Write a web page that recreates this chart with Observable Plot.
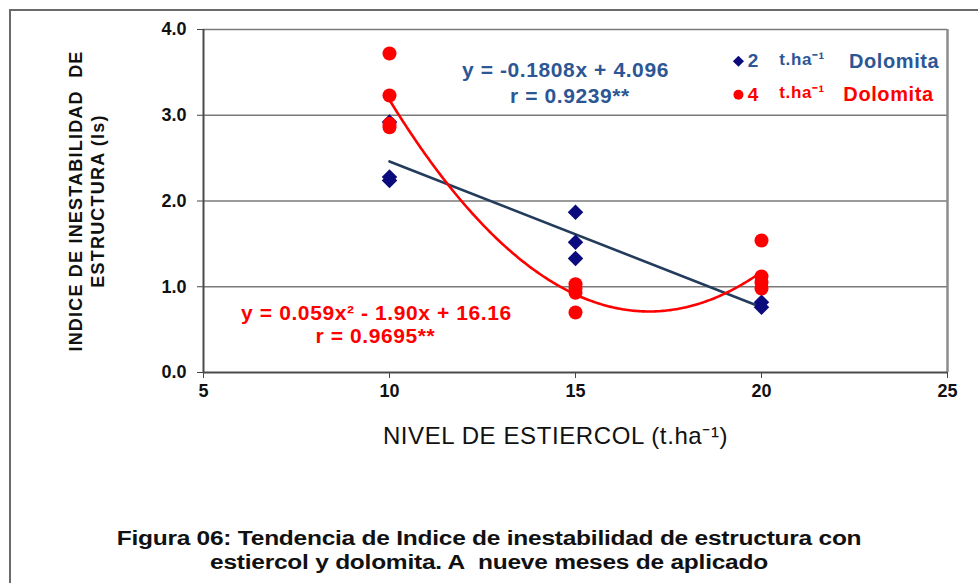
<!DOCTYPE html>
<html>
<head>
<meta charset="utf-8">
<script src="https://cdn.jsdelivr.net/npm/d3@7"></script>
<script src="https://cdn.jsdelivr.net/npm/@observablehq/plot@0.6"></script>
<style>
  body { margin: 0; background: #fff; }
  #frame { position: absolute; left: 9px; top: 9px; width: 969px; height: 574px;
           border-top: 2px solid #6a6a6a; border-left: 2px solid #6a6a6a; box-sizing: border-box; }
  #chart { position: absolute; left: 0; top: 0; }
  #cap { position: absolute; left: 0; top: 526px; width: 978px; text-align: center;
         font-family: "Liberation Sans", Arial, sans-serif; font-weight: bold; font-size: 20px;
         line-height: 24px; color: #111; letter-spacing: -0.2px;
         transform: scaleX(1.225); transform-origin: 489px 0; }
</style>
</head>
<body>
<div id="frame"></div>
<div id="chart"></div>
<div id="cap">Figura 06: Tendencia de Indice de inestabilidad de estructura con<br>estiercol y dolomita. A&nbsp; nueve meses de aplicado</div>
<script>
// ---- data ----
const xTicks = [5, 10, 15, 20, 25];
const yTicks = [0, 1, 2, 3, 4];

// 2 t.ha-1 Dolomita (blue diamonds)
const blueX = [10, 10, 10, 15, 15, 15, 20, 20];
const blueY = [2.92, 2.28, 2.24, 1.87, 1.52, 1.33, 0.82, 0.76];

// 4 t.ha-1 Dolomita (red circles)
const redX = [10, 10, 10, 10, 15, 15, 15, 15, 20, 20, 20, 20];
const redY = [3.72, 3.23, 2.90, 2.86, 1.03, 0.98, 0.93, 0.70, 1.54, 1.12, 1.05, 0.98];

const seriesNames = ["2", "4"];
const legendUnit = "t.ha⁻¹";
const legendWord = "Dolomita";
const blueEq = "y = -0.1808x + 4.096";
const blueR = "r = 0.9239**";
const redEq = "y = 0.059x² - 1.90x + 16.16";
const redR = "r = 0.9695**";
const xLabel = "NIVEL DE ESTIERCOL (t.ha⁻¹)";
const yLabel = "INDICE DE INESTABILIDAD  DE\nESTRUCTURA (Is)";

// ---- derived tables ----
const blue = blueX.map((x, i) => ({x, y: blueY[i]}));
const red = redX.map((x, i) => ({x, y: redY[i]}));

// least-squares quadratic fit for the red series
function quadFit(xs, ys) {
  let S = [0,0,0,0,0], T = [0,0,0];
  xs.forEach((x, i) => {
    for (let k = 0; k < 5; k++) S[k] += Math.pow(x, k);
    for (let k = 0; k < 3; k++) T[k] += Math.pow(x, k) * ys[i];
  });
  const M = [[S[4], S[3], S[2]], [S[3], S[2], S[1]], [S[2], S[1], S[0]]];
  const V = [T[2], T[1], T[0]];
  const det = m => m[0][0]*(m[1][1]*m[2][2]-m[1][2]*m[2][1]) - m[0][1]*(m[1][0]*m[2][2]-m[1][2]*m[2][0]) + m[0][2]*(m[1][0]*m[2][1]-m[1][1]*m[2][0]);
  const D = det(M);
  return [0,1,2].map(c => det(M.map((row, r) => row.map((v, j) => j === c ? V[r] : v))) / D);
}
const [qa, qb, qc] = quadFit(redX, redY);
const xmin = d3.min(redX), xmax = d3.max(redX);
const redCurve = d3.range(0, 201).map(i => {
  const x = xmin + (xmax - xmin) * i / 200;
  return {x, y: qa*x*x + qb*x + qc};
});

const blueNavy = "#0b0b7d";
const blueText = "#2c5794";
const redCol = "#ff0000";

const plot = Plot.plot({
  width: 978,
  height: 505,
  marginLeft: 203,
  marginRight: 31,
  marginTop: 29,
  marginBottom: 133,
  style: {fontFamily: "'Liberation Sans', Arial, sans-serif", fontWeight: "bold", fontSize: "18px", color: "#111", background: "transparent"},
  x: {domain: [5, 25]},
  y: {domain: [0, 4]},
  marks: [
    Plot.ruleY(yTicks.filter(d => d > 0), {stroke: "#7a7a7a", strokeWidth: 1.6}),
    Plot.ruleX([25], {y1: 0, y2: 4, stroke: "#8c8c8c", strokeWidth: 2.5}),
    Plot.axisX({ticks: xTicks, tickFormat: d => String(d), tickSize: 6, tickPadding: 6, stroke: "#444", label: null, fontSize: 18, fontWeight: "bold", fill: "#111"}),
    Plot.axisY({ticks: yTicks, tickFormat: d => d.toFixed(1), tickSize: 6, tickPadding: 11, stroke: "#444", label: null, fontSize: 18, fontWeight: "bold", fill: "#111"}),
    Plot.ruleX([5], {y1: 0, y2: 4, stroke: "#4a4a4a", strokeWidth: 2}),
    Plot.ruleY([0], {x1: 5, x2: 25, stroke: "#4a4a4a", strokeWidth: 2}),
    Plot.linearRegressionY(blue, {x: "x", y: "y", stroke: "#243c5c", strokeWidth: 2.6, ci: 0}),
    Plot.line(redCurve, {x: "x", y: "y", stroke: redCol, strokeWidth: 2.6, curve: "basis"}),
    Plot.dot(blue, {x: "x", y: "y", symbol: "diamond2", r: 7, fill: blueNavy, stroke: "none"}),
    Plot.dot(red, {x: "x", y: "y", symbol: "circle", r: 7, fill: redCol, stroke: "none"}),
    // equations
    Plot.text([blueEq], {x: 14.73, y: 3.52, text: d => d, fill: blueText, fontSize: 21, fontWeight: "bold"}),
    Plot.text([blueR], {x: 14.85, y: 3.22, text: d => d, fill: blueText, fontSize: 21, fontWeight: "bold"}),
    Plot.text([redEq], {x: 9.65, y: 0.69, text: d => d, fill: redCol, fontSize: 21, fontWeight: "bold"}),
    Plot.text([redR], {x: 9.62, y: 0.42, text: d => d, fill: redCol, fontSize: 21, fontWeight: "bold"}),
    // legend
    Plot.dot([0], {x: 19.38, y: 3.63, symbol: "diamond2", r: 5, fill: blueNavy}),
    Plot.dot([0], {x: 19.38, y: 3.24, r: 5, fill: redCol}),
    Plot.text([seriesNames[0]], {x: 19.63, y: 3.63, text: d => d, textAnchor: "start", fill: blueText, fontSize: 19}),
    Plot.text([seriesNames[1]], {x: 19.63, y: 3.24, text: d => d, textAnchor: "start", fill: redCol, fontSize: 19}),
    Plot.text([legendUnit], {x: 20.48, y: 3.65, text: d => d, textAnchor: "start", fill: blueText, fontSize: 17}),
    Plot.text([legendUnit], {x: 20.48, y: 3.27, text: d => d, textAnchor: "start", fill: redCol, fontSize: 17}),
    Plot.text([legendWord], {x: 22.35, y: 3.63, text: d => d, textAnchor: "start", fill: blueText, fontSize: 20}),
    Plot.text([legendWord], {x: 22.2, y: 3.24, text: d => d, textAnchor: "start", fill: redCol, fontSize: 20}),
    // axis labels
    Plot.text([xLabel], {frameAnchor: "bottom", dx: -20, dy: 71, text: d => d, fontFamily: "'Liberation Sans Narrow', 'Liberation Sans', sans-serif", fontWeight: "normal", fontSize: 24, fill: "#111"}),
    Plot.text([yLabel], {frameAnchor: "left", textAnchor: "middle", dx: -118, dy: 0, rotate: -90, text: d => d, lineAnchor: "middle", lineHeight: 1.22, fontSize: 18, fontWeight: "bold", fill: "#111"})
  ]
});
// slightly wider letter spacing to match the reference's stretched type
d3.select(plot).selectAll("g[aria-label='text'] text").style("letter-spacing", "0.6px");
d3.select(plot).selectAll("g[aria-label='text'] text")
  .filter(function() { return this.textContent.startsWith("INDICE"); })
  .style("letter-spacing", "1.2px");
document.getElementById("chart").appendChild(plot);
</script>
</body>
</html>
